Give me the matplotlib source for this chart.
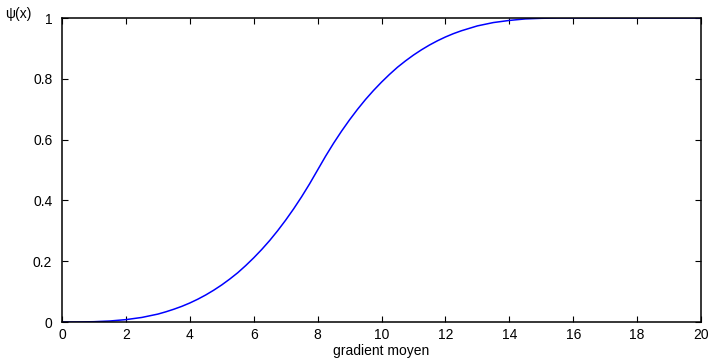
import numpy as np
import matplotlib.pyplot as plt

plt.rcParams['font.family'] = ['Liberation Sans', 'DejaVu Sans']

# values
x_vals = [0, 0.5, 1, 1.5, 2, 2.5, 3, 3.25, 3.5, 3.75, 4, 4.25, 4.5, 4.75,
          5, 5.25, 5.5, 5.75, 6, 6.25, 6.5, 6.75, 7, 7.25, 7.5, 7.75, 8,
          8.25, 8.5, 8.75, 9, 9.25, 9.5, 9.75, 10, 10.25, 10.5, 10.75, 11,
          11.25, 11.5, 11.75, 12, 12.25, 12.5, 12.75, 13, 13.5, 14, 14.5,
          15, 15.5, 16, 17, 18, 19, 20]
psi_vals = [0, 0.0001, 0.001, 0.0033, 0.0078, 0.015, 0.026, 0.0335, 0.042,
            0.0515, 0.0625, 0.075, 0.089, 0.1047, 0.122, 0.1412, 0.162,
            0.1856, 0.211, 0.2384, 0.268, 0.3003, 0.335, 0.3722, 0.412,
            0.4546, 0.5, 0.5454, 0.588, 0.6278, 0.665, 0.6997, 0.732, 0.7616,
            0.789, 0.8144, 0.838, 0.8588, 0.878, 0.8953, 0.911, 0.925,
            0.9375, 0.9485, 0.958, 0.966, 0.974, 0.985, 0.992, 0.997, 0.999,
            1.0, 1.0, 1.0, 1.0, 1.0, 1.0]
x_ticks = [0, 2, 4, 6, 8, 10, 12, 14, 16, 18, 20]
y_ticks = [0, 0.2, 0.4, 0.6, 0.8, 1]

fig = plt.figure(figsize=(7.11, 3.6), dpi=100)
ax = fig.add_axes([62 / 711, 1 - 322 / 360, (701 - 62) / 711, (322 - 18) / 360])

ax.plot(x_vals, psi_vals, color='blue', linewidth=1.1)

ax.set_xlim(0, 20)
ax.set_ylim(0, 1)
ax.set_xticks(x_ticks)
ax.set_yticks(y_ticks)
ax.set_xticklabels([str(t) for t in x_ticks])
ax.set_yticklabels(['0', '0.2', '0.4', '0.6', '0.8', '1'])
ax.tick_params(direction='in', length=4, width=0.8, top=True, right=True,
               labelsize=10)
ax.tick_params(axis='y', pad=7)
ax.tick_params(axis='x', pad=4)
for s in ax.spines.values():
    s.set_linewidth(1.1)

ax.set_xlabel('gradient moyen', fontsize=10, labelpad=2)
fig.text(5 / 711, 1 - 14 / 360, 'ψ(x)', fontsize=10, ha='left', va='center')

fig.savefig('out.png', dpi=100)
